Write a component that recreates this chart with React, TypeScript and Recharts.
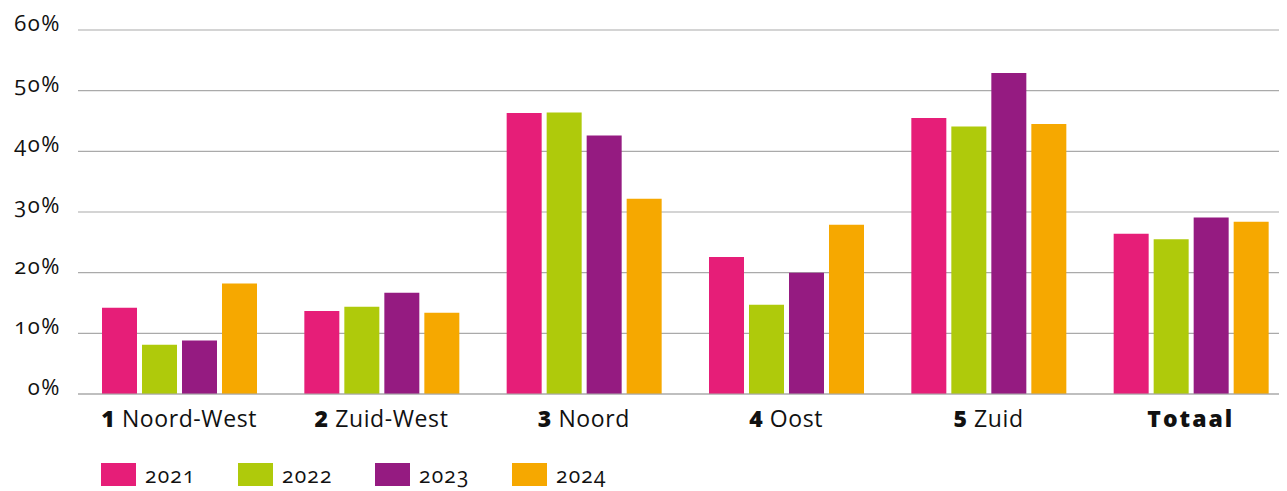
import React from 'react';
import { BarChart, Bar, XAxis, YAxis, CartesianGrid, Legend } from 'recharts';

const categories = ['1 Noord-West', '2 Zuid-West', '3 Noord', '4 Oost', '5 Zuid', 'Totaal'];
const y2021 = [14.2, 13.7, 46.3, 22.6, 45.5, 26.4];
const y2022 = [8.1, 14.4, 46.4, 14.7, 44.1, 25.5];
const y2023 = [8.8, 16.7, 42.6, 20.0, 52.9, 29.1];
const y2024 = [18.2, 13.4, 32.2, 27.9, 44.5, 28.4];
const yTicks = [0, 10, 20, 30, 40, 50, 60];
const seriesNames = ['2021', '2022', '2023', '2024'];
const colors = ['#e61e78', '#afca0b', '#951b81', '#f6a800'];

const data = categories.map((c, i) => ({
  cat: c,
  s2021: y2021[i],
  s2022: y2022[i],
  s2023: y2023[i],
  s2024: y2024[i],
}));

const FONT = '"Open Sans", Lato, sans-serif';

const XTick = (props: any) => {
  const { x, y, payload } = props;
  const label: string = payload.value;
  const m = label.match(/^(\d)\s(.*)$/);
  return (
    <text x={x} y={y + 25} textAnchor="middle" fontFamily={FONT} fontSize={23} fill="#111" letterSpacing={0.6}>
      {m ? (
        <>
          <tspan fontWeight={800}>{m[1]}</tspan>
          <tspan>{' ' + m[2]}</tspan>
        </>
      ) : (
        <tspan fontWeight={800} letterSpacing={2}>{label}</tspan>
      )}
    </text>
  );
};

const YTick = (props: any) => {
  const { x, y, payload } = props;
  return (
    <text x={x} y={y + 1} textAnchor="end" fontFamily={FONT} fontSize={22} fill="#111" letterSpacing={1.5}
      style={{ fontVariantNumeric: 'oldstyle-nums' }}>
      {payload.value + '%'}
    </text>
  );
};

const LegendContent = (props: any) => {
  const { payload } = props;
  return (
    <div style={{ display: 'flex', fontFamily: FONT }}>
      {payload.map((p: any, i: number) => (
        <div key={i} style={{ width: 137, display: 'flex', alignItems: 'center' }}>
          <div style={{ width: 35, height: 23, background: p.color, marginRight: 9 }} />
          <span style={{ fontSize: 21, color: '#111', letterSpacing: 1.2, fontVariantNumeric: 'oldstyle-nums', lineHeight: '23px', marginTop: 2 }}>{p.value}</span>
        </div>
      ))}
    </div>
  );
};

export default function App() {
  return (
    <div style={{ width: 1279, height: 483, overflow: 'hidden' }}>
      <BarChart
        width={1284}
        height={483}
        data={data}
        margin={{ top: 22, right: 0, bottom: 42, left: 0 }}
        barSize={35}
        barGap={5}
      >
        <CartesianGrid horizontal vertical={false} stroke="#aaaaaa" strokeWidth={1.2} />
        <XAxis dataKey="cat" axisLine={{ stroke: '#aaaaaa', strokeWidth: 1.2 }} tickLine={false} tick={<XTick />} interval={0} height={30} />
        <YAxis domain={[0, 60]} ticks={yTicks} axisLine={false} tickLine={false} width={70} tickMargin={11} tick={<YTick />} />
        <Legend
          content={<LegendContent />}
          wrapperStyle={{ position: 'absolute', left: 93, top: 454, width: 700 }}
        />
        {seriesNames.map((n, i) => (
          <Bar key={n} dataKey={'s' + n} name={n} fill={colors[i]} isAnimationActive={false} />
        ))}
      </BarChart>
    </div>
  );
}
